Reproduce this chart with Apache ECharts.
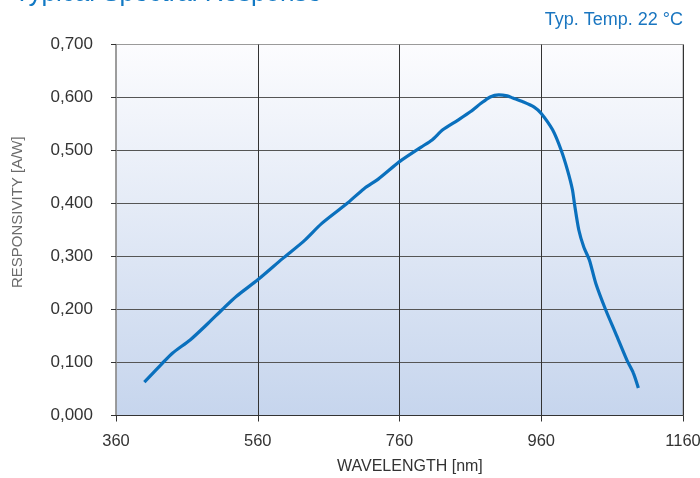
<!DOCTYPE html>
<html>
<head>
<meta charset="utf-8">
<script src="https://cdn.jsdelivr.net/npm/echarts@6/dist/echarts.min.js"></script>
<style>
html,body{margin:0;padding:0;background:#fff;}
#c{width:700px;height:478px;}
</style>
</head>
<body>
<div id="c"></div>
<script>
var wavelengths = [400, 425, 440, 465, 490, 510, 530, 560, 595, 625, 650, 685, 710, 730, 760, 790, 806, 821, 842, 861, 875, 888, 900, 912, 920, 934, 950, 960, 976, 988, 997, 1004, 1007, 1013, 1020, 1028, 1037, 1051, 1065, 1081, 1090, 1097];
var responsivity = [0.063, 0.098, 0.118, 0.143, 0.174, 0.200, 0.225, 0.256, 0.296, 0.329, 0.362, 0.399, 0.428, 0.446, 0.479, 0.506, 0.520, 0.539, 0.557, 0.574, 0.589, 0.601, 0.605, 0.603, 0.599, 0.592, 0.582, 0.570, 0.539, 0.501, 0.463, 0.426, 0.398, 0.350, 0.318, 0.293, 0.249, 0.199, 0.155, 0.104, 0.080, 0.052];
var xTicks = [360, 560, 760, 960, 1160];
var titleText = 'Typical Spectral Response';
var noteText = 'Typ. Temp. 22 °C';
var xName = 'WAVELENGTH [nm]';
var yName = 'RESPONSIVITY [A/W]';

var pts = wavelengths.map(function (w, i) { return [w, responsivity[i]]; });
var FONT = '"Liberation Sans", Arial, Helvetica, sans-serif';
var chart = echarts.init(document.getElementById('c'));
chart.setOption({
  animation: false,
  backgroundColor: '#ffffff',
  grid: {
    left: 116, right: 17, top: 44.5, bottom: 62.5,
    outerBoundsMode: 'none',
    containLabel: false,
    show: true,
    borderColor: '#9a9a9a',
    borderWidth: 1,
    backgroundColor: {
      type: 'linear', x: 0, y: 0, x2: 0, y2: 1,
      colorStops: [{offset: 0, color: '#fcfcfe'}, {offset: 1, color: '#c6d5ed'}]
    }
  },
  graphic: [
    { type: 'text', left: 14, top: -19, style: { text: titleText, font: '26px ' + FONT, fill: '#1279c4' } },
    { type: 'text', right: 17, top: 11, style: { text: noteText, font: '18px ' + FONT, fill: '#1a76c0' } },
    { type: 'text', left: 337, top: 459, style: { text: xName, font: '16px ' + FONT, fill: '#333333' } },
    { type: 'text', x: 10, y: 288, rotation: Math.PI / 2, style: { text: yName, font: '15px ' + FONT, fill: '#6b6b6b' } }
  ],
  xAxis: {
    type: 'value', min: 360, max: 1160,
    axisLine: { show: true, onZero: false, lineStyle: { color: '#333', width: 1 } },
    axisTick: { show: true, length: 6, customValues: xTicks, lineStyle: { color: '#333' } },
    axisLabel: { customValues: xTicks, margin: 17, fontSize: 16.5, fontFamily: FONT, color: '#333',
      formatter: function (v) { return String(v); } },
    splitLine: { show: true, showMinLine: false, lineStyle: { color: '#333', width: 1 } }
  },
  yAxis: {
    type: 'value', min: 0, max: 0.7, interval: 0.1,
    axisLine: { show: true, onZero: false, lineStyle: { color: '#8c8c8c', width: 1.5 } },
    axisTick: { show: true, length: 5, lineStyle: { color: '#333' } },
    axisLabel: { margin: 23, fontSize: 17, fontFamily: FONT, color: '#333',
      formatter: function (v) { return v.toFixed(3).replace('.', ','); } },
    splitLine: { show: true, showMinLine: false, showMaxLine: false, lineStyle: { color: '#555', width: 1 } }
  },
  series: [{
    type: 'line',
    data: pts,
    smooth: 0.25,
    showSymbol: false,
    lineStyle: { color: '#0a70bd', width: 3.2 }
  }]
});
</script>
</body>
</html>
